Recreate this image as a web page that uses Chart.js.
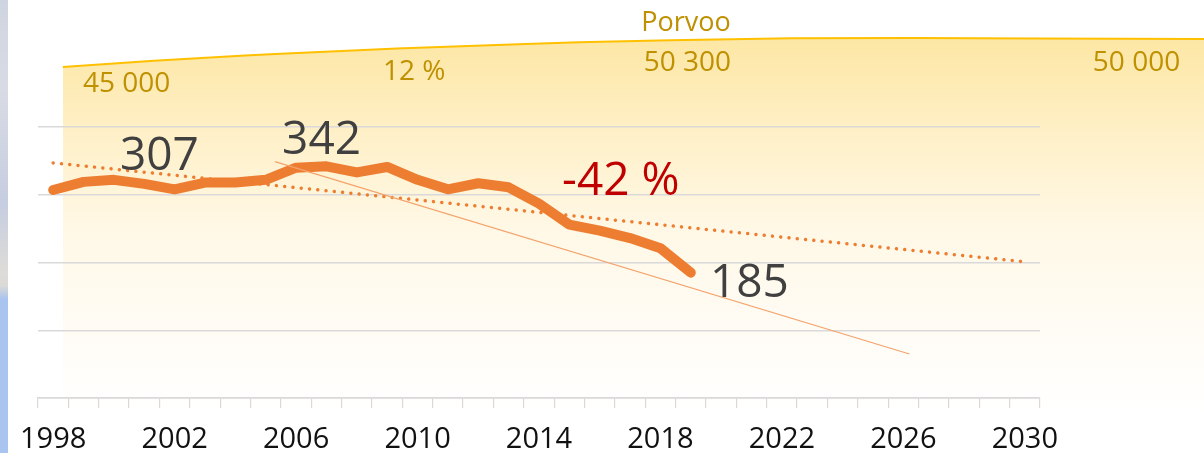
<!DOCTYPE html>
<html>
<head>
<meta charset="utf-8">
<script src="https://cdn.jsdelivr.net/npm/chart.js@4.4.1/dist/chart.umd.min.js"></script>
<style>
    html, body { margin: 0; padding: 0; background: #fff; }
    #wrap { position: relative; width: 1204px; height: 453px; overflow: hidden; }
    #wrap canvas { position: absolute; left: 0; top: 0; }
    #edge {
        position: absolute; left: 0; top: 0; width: 8px; height: 453px;
        background: linear-gradient(to bottom, #cfd5e0 0%, #d8dbe4 20%, #c6cde0 45%, #dedcd8 60%, #dcdad6 63%, #a9c4ee 66%, #a9c4ee 100%);
    }
</style>
</head>
<body>
<div id="wrap">
    <canvas id="population-chart" width="1204" height="453"></canvas>
    <canvas id="emission-chart" width="1204" height="453"></canvas>
    <div id="edge"></div>
</div>
<script>
////
///////////////////// Data /////////////////////
////

// Porvoo population (background area)
const popYears = [1998, 2001, 2004, 2005, 2009, 2013, 2015, 2018, 2019, 2022, 2026, 2030, 2036];
const popValues = [45000, 46200, 47200, 47500, 48600, 49400, 49800, 50200, 50300, 50550, 50600, 50500, 50400];

// main series
const years = [1998, 1999, 2000, 2001, 2002, 2003, 2004, 2005, 2006, 2007, 2008,
               2009, 2010, 2011, 2012, 2013, 2014, 2015, 2016, 2017, 2018, 2019];
const values = [307, 319, 322, 316, 308, 318, 318, 322, 340, 342, 333,
                341, 322, 308, 317, 311, 287, 256, 247, 236, 221, 185];

// dotted trend and thin slope line
const trendYears = [1998, 2030];
const trendValues = [347, 201];
const slopeYears = [2005.3, 2026.2];
const slopeValues = [349, 65];

// tick labels on the x axis
const labelYears = [1998, 2002, 2006, 2010, 2014, 2018, 2022, 2026, 2030];

const toPoints = (xs, ys) => xs.map((x, i) => ({ x: x, y: ys[i] }));

// draws a list of text labels placed in data coordinates
const makeTextPlugin = (id, items) => ({
    id: id,
    afterDatasetsDraw(chart) {
        const { ctx, scales } = chart;
        ctx.save();
        ctx.textBaseline = 'alphabetic';
        items.forEach(item => {
            ctx.font = item.font;
            ctx.fillStyle = item.color;
            ctx.textAlign = item.align;
            ctx.fillText(item.text, scales.x.getPixelForValue(item.x), scales.y.getPixelForValue(item.y));
        });
        ctx.restore();
    }
});

////
///////////////////// Population area /////////////////////
////

const gold = '#BF9000';
const goldFont = '28px "Open Sans"';

const popTexts = [
    { text: 'Porvoo', x: 2018.52, y: 51980, align: 'center', color: gold, font: '27px "Open Sans"' },
    { text: '45 000', x: 1998.66, y: 40130, align: 'left', color: gold, font: goldFont },
    { text: '12 %', x: 2008.54, y: 42460, align: 'left', color: gold, font: goldFont },
    { text: '50 300', x: 2017.13, y: 44208, align: 'left', color: gold, font: goldFont },
    { text: '50 000', x: 2031.92, y: 44208, align: 'left', color: gold, font: goldFont }
];

let popChart = new Chart(document.getElementById('population-chart'), {
    type: 'line',
    data: {
        datasets: [{
            data: toPoints(popYears, popValues),
            borderColor: '#FFC000',
            borderWidth: 2,
            pointRadius: 0,
            fill: 'start',
            backgroundColor: (context) => {
                const { ctx, chartArea } = context.chart;
                if (!chartArea) return null;
                const g = ctx.createLinearGradient(0, 40, 0, 420);
                g.addColorStop(0, '#fde7a5');
                g.addColorStop(0.25, '#fef0c8');
                g.addColorStop(0.5, '#fff8e6');
                g.addColorStop(0.78, '#fffcf6');
                g.addColorStop(1, '#ffffff');
                return g;
            }
        }]
    },
    options: {
        responsive: false,
        animation: false,
        layout: { padding: 0 },
        plugins: { legend: { display: false }, tooltip: { enabled: false } },
        scales: {
            x: { type: 'linear', display: false, min: 1995.93, max: 2035.58 },
            y: { display: false, min: -30000, max: 58000 }
        }
    },
    plugins: [makeTextPlugin('popTexts', popTexts)]
});

////
///////////////////// Main line chart /////////////////////
////

const bigFont = '46px "Open Sans"';
const mainTexts = [
    { text: String(values[0]), x: 2000.2, y: 336.5, align: 'left', color: '#404040', font: bigFont },
    { text: String(Math.max(...values)), x: 2005.54, y: 360.1, align: 'left', color: '#404040', font: bigFont },
    { text: '-42 %', x: 2014.76, y: 299.6, align: 'left', color: '#C00000', font: bigFont },
    { text: String(values[values.length - 1]), x: 2019.63, y: 149.1, align: 'left', color: '#404040', font: bigFont }
];

// tick marks sit between the years, labels on the years
const xTicks = [];
for (let v = 1997.5; v <= 2030.5; v += 0.5) {
    xTicks.push({ value: v });
}

let mainChart = new Chart(document.getElementById('emission-chart'), {
    type: 'line',
    data: {
        datasets: [
            {
                data: toPoints(slopeYears, slopeValues),
                borderColor: '#F4A36B',
                borderWidth: 1.2,
                pointRadius: 0,
                order: 1
            },
            {
                data: toPoints(trendYears, trendValues),
                borderColor: '#ED7D31',
                borderWidth: 3.5,
                borderDash: [0.01, 8.3],
                borderCapStyle: 'round',
                pointRadius: 0,
                order: 2
            },
            {
                data: toPoints(years, values),
                borderColor: '#ED7D31',
                borderWidth: 10,
                borderCapStyle: 'round',
                borderJoinStyle: 'round',
                pointRadius: 0,
                order: 3
            }
        ]
    },
    options: {
        responsive: false,
        animation: false,
        layout: { padding: { left: 38, right: 164, top: 127, bottom: 0 } },
        plugins: { legend: { display: false }, tooltip: { enabled: false } },
        scales: {
            x: {
                type: 'linear',
                min: 1997.5,
                max: 2030.5,
                afterBuildTicks: axis => { axis.ticks = xTicks.map(t => ({ value: t.value })); },
                afterFit: axis => { axis.height = 55; },
                grid: {
                    drawOnChartArea: false,
                    drawTicks: true,
                    tickLength: 10,
                    lineWidth: 1.2,
                    tickColor: ctx => (ctx.tick && ctx.tick.value % 1 !== 0) ? '#d9d9d9' : 'rgba(0,0,0,0)'
                },
                border: { display: true, color: '#d9d9d9', width: 1.5 },
                ticks: {
                    autoSkip: false,
                    maxRotation: 0,
                    padding: 14,
                    color: '#111',
                    font: { family: 'Open Sans', size: 29 },
                    callback: v => labelYears.includes(v) ? String(v) : ''
                }
            },
            y: {
                min: 0,
                max: 400,
                afterFit: axis => { axis.width = 0; },
                ticks: { display: false, stepSize: 100 },
                grid: { color: '#d9d9d9', lineWidth: 1.5, drawTicks: false },
                border: { display: false }
            }
        }
    },
    plugins: [makeTextPlugin('mainTexts', mainTexts)]
});
</script>
</body>
</html>
